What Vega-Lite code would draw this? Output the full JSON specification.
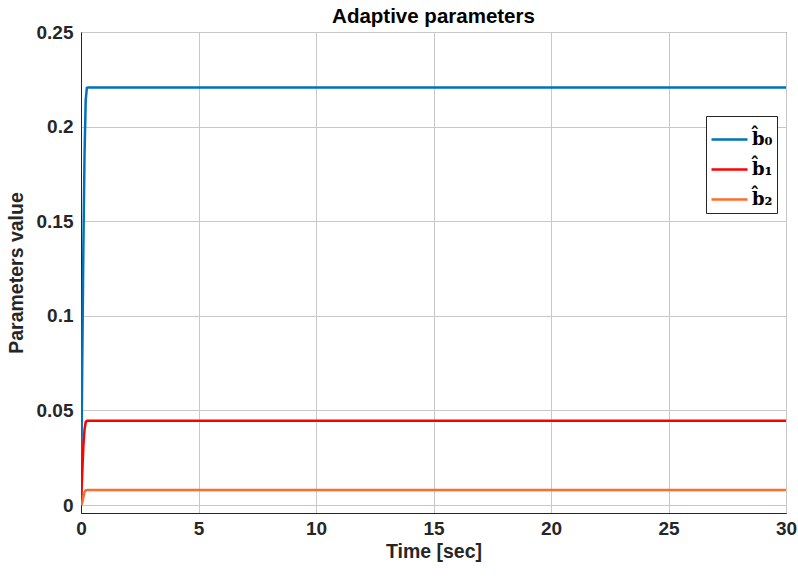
{
  "$schema": "https://vega.github.io/schema/vega-lite/v6.json",
  "width": 705,
  "height": 481,
  "autosize": {"type": "none"},
  "padding": {"left": 81, "top": 32, "right": 12, "bottom": 66},
  "background": "white",
  "title": {"text": "Adaptive parameters", "font": "Liberation Sans", "fontSize": 20.5, "fontWeight": "bold", "color": "#000000", "anchor": "middle", "offset": -4},
  "config": {
    "view": {"stroke": "#262626", "strokeWidth": 1},
    "axis": {"labelFont": "Liberation Sans", "labelFontSize": 19, "labelFontWeight": "bold", "labelColor": "#262626", "titleFont": "Liberation Sans", "titleFontSize": 19.5, "titleFontWeight": "bold", "titleColor": "#262626", "domainColor": "#262626", "gridColor": "#c8c8c8", "gridOpacity": 1, "gridWidth": 1, "ticks": false, "labelFlush": false}
  },
  "data": {"values": [
    {"t": 0, "v": 0, "s": "b0"}, {"t": 0.05, "v": 0.07, "s": "b0"}, {"t": 0.1, "v": 0.135, "s": "b0"}, {"t": 0.15, "v": 0.185, "s": "b0"}, {"t": 0.2, "v": 0.214, "s": "b0"}, {"t": 0.25, "v": 0.2205, "s": "b0"}, {"t": 0.3, "v": 0.2207, "s": "b0"}, {"t": 30, "v": 0.2207, "s": "b0"},
    {"t": 0, "v": 0, "s": "b1"}, {"t": 0.05, "v": 0.016, "s": "b1"}, {"t": 0.1, "v": 0.031, "s": "b1"}, {"t": 0.15, "v": 0.04, "s": "b1"}, {"t": 0.2, "v": 0.0438, "s": "b1"}, {"t": 0.25, "v": 0.0445, "s": "b1"}, {"t": 30, "v": 0.0445, "s": "b1"},
    {"t": 0, "v": 0, "s": "b2"}, {"t": 0.05, "v": 0.0012, "s": "b2"}, {"t": 0.1, "v": 0.0042, "s": "b2"}, {"t": 0.15, "v": 0.0068, "s": "b2"}, {"t": 0.2, "v": 0.0078, "s": "b2"}, {"t": 0.27, "v": 0.008, "s": "b2"}, {"t": 30, "v": 0.008, "s": "b2"}
  ]},
  "mark": {"type": "line", "clip": true},
  "encoding": {
    "x": {"field": "t", "type": "quantitative", "title": "Time [sec]", "scale": {"domain": [0, 30], "nice": false}, "axis": {"values": [0, 5, 10, 15, 20, 25, 30], "labelPadding": 6, "titlePadding": 4, "format": "d"}},
    "y": {"field": "v", "type": "quantitative", "title": "Parameters value", "scale": {"domain": [-0.0042, 0.25], "nice": false, "zero": false}, "axis": {"values": [0, 0.05, 0.1, 0.15, 0.2, 0.25], "format": ".2~f", "labelPadding": 8, "titlePadding": 10}},
    "color": {"field": "s", "type": "nominal", "scale": {"domain": ["b0", "b1", "b2"], "range": ["#0072BD", "#FF0000", "#FF6B2B"]},
      "legend": {"title": null, "orient": "none", "legendX": 625, "legendY": 84, "strokeColor": "#262626", "fillColor": "white", "padding": 4, "symbolType": "stroke", "symbolSize": 1296, "symbolStrokeWidth": 2.5, "rowPadding": 1, "labelOffset": 3, "labelFont": "DejaVu Serif", "labelFontSize": 18, "labelFontWeight": "bold", "labelColor": "#000000", "labelExpr": "datum.value == 'b0' ? 'b\u0302\u2080' : datum.value == 'b1' ? 'b\u0302\u2081' : 'b\u0302\u2082'",
        "encode": {"symbols": {"update": {"strokeWidth": {"signal": "datum.value == 'b2' ? 4 : 2.5"}}}}}},
    "strokeWidth": {"field": "s", "type": "ordinal", "scale": {"domain": ["b0", "b1", "b2"], "range": [2.5, 2.5, 4]}, "legend": null}
  }
}
